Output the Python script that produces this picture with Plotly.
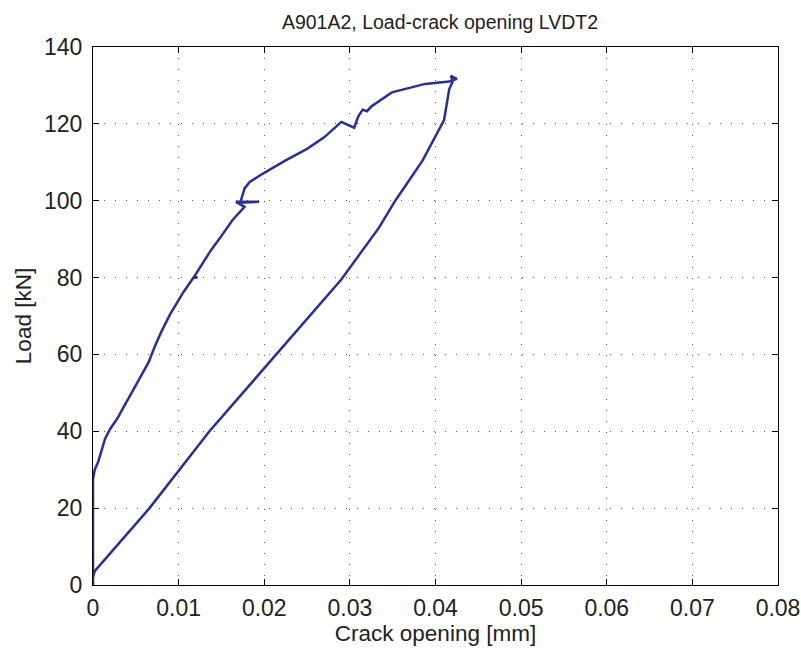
import plotly.graph_objects as go

# loading branch, crack opening [mm] / load [kN]
load_x = [0.0, 0.0, 0.0002, 0.0006, 0.0014, 0.002, 0.0028, 0.0045, 0.0065, 0.0072, 0.008,
          0.009, 0.0105, 0.0117, 0.0122, 0.0118, 0.0138, 0.0148, 0.0163, 0.0177, 0.0167,
          0.0194, 0.0172, 0.0177, 0.0183, 0.0198, 0.0225, 0.025, 0.027, 0.029, 0.0305,
          0.031, 0.0315, 0.032, 0.0325, 0.0349, 0.0388, 0.0416, 0.0425, 0.0418, 0.042]
load_y = [0.0, 27.5, 30.0, 32.0, 38.0, 40.6, 43.2, 50.0, 58.0, 62.0, 66.0,
          70.4, 76.0, 79.9, 80.0, 80.2, 87.2, 90.2, 95.0, 98.4, 99.7,
          99.7, 99.5, 103.2, 104.9, 107.0, 110.5, 113.5, 116.5, 120.5, 119.0,
          122.0, 123.7, 123.3, 124.5, 128.2, 130.4, 131.0, 131.7, 132.5, 131.0]

# unloading branch
unload_x = [0.042, 0.0416, 0.041, 0.0385, 0.0353, 0.0334, 0.029, 0.0214, 0.0136,
            0.0066, 0.0002, 0.0]
unload_y = [131.0, 129.0, 121.0, 110.5, 100.0, 93.0, 79.5, 60.0, 40.0,
            20.0, 3.6, 2.0]

x_ticks = [0, 0.01, 0.02, 0.03, 0.04, 0.05, 0.06, 0.07, 0.08]
x_labels = ["0", "0.01", "0.02", "0.03", "0.04", "0.05", "0.06", "0.07", "0.08"]
y_ticks = [0, 20, 40, 60, 80, 100, 120, 140]

x = load_x + unload_x
y = load_y + unload_y

fig = go.Figure(go.Scatter(x=x, y=y, mode="lines",
                           line=dict(color="#2a2f96", width=2.5)))

FONT = "Liberation Sans, Arial"
axis_style = dict(
    showline=True, linecolor="black", linewidth=1, mirror="ticks",
    ticks="inside", ticklen=6, tickcolor="black",
    showgrid=True, gridcolor="#555555", griddash="1px,10px", gridwidth=1,
    zeroline=False, automargin=False,
    tickfont=dict(family=FONT, size=23, color="#222222"),
)

fig.update_layout(
    width=801, height=654,
    margin=dict(l=93, r=23, t=47, b=69),
    paper_bgcolor="white", plot_bgcolor="white",
    showlegend=False,
    font=dict(family=FONT, size=21, color="#222222"),
    title=dict(text="A901A2, Load-crack opening LVDT2", x=0.5066, xref="paper",
               xanchor="center", y=0.966, yanchor="middle",
               font=dict(size=19.5)),
    xaxis=dict(range=[0, 0.08], tickvals=x_ticks, ticktext=x_labels,
               ticklabelstandoff=2,
               title=dict(text="Crack opening [mm]", standoff=5,
                          font=dict(size=22.5)), **axis_style),
    yaxis=dict(range=[0, 140], tickvals=y_ticks, ticklabelstandoff=5,
               title=dict(text="Load [kN]", standoff=6,
                          font=dict(size=22.5)), **axis_style),
)

# drop the default 8px body margin so the figure sits at the window corner
fig.write_html("out.html", config={"displayModeBar": False},
               post_script="document.body.style.margin='0px';")
